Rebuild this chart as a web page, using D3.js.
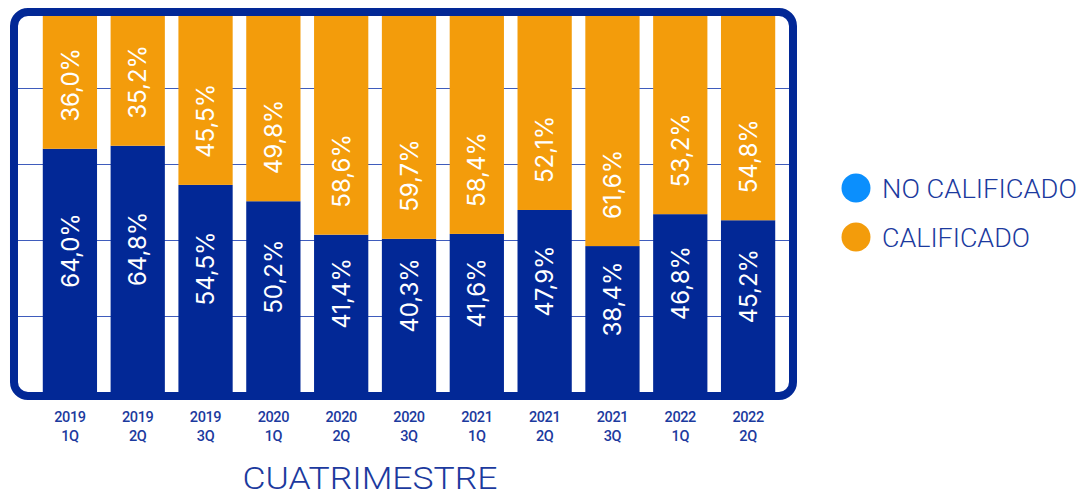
<!DOCTYPE html>
<html>
<head>
<meta charset="utf-8">
<script src="https://cdn.jsdelivr.net/npm/d3@7"></script>
<style>
  body { margin: 0; background: #fff; }
  svg { display: block; }
</style>
</head>
<body>
<svg id="chart" width="1089" height="496"></svg>
<script>
// chart data
const years = ["2019", "2019", "2019", "2020", "2020", "2020", "2021", "2021", "2021", "2022", "2022"];
const quarters = ["1Q", "2Q", "3Q", "1Q", "2Q", "3Q", "1Q", "2Q", "3Q", "1Q", "2Q"];
const noCalificado = [64.0, 64.8, 54.5, 50.2, 41.4, 40.3, 41.6, 47.9, 38.4, 46.8, 45.2];
const calificado = [36.0, 35.2, 45.5, 49.8, 58.6, 59.7, 58.4, 52.1, 61.6, 53.2, 54.8];
const gridValues = [20, 40, 60, 80];
const seriesNames = ["NO CALIFICADO", "CALIFICADO"];

const navy = "#022896";
const orange = "#f39c0b";
const legendBlue = "#0b8ffd";
const textBlue = "#1c3a9e";

const svg = d3.select("#chart");
const keys = years.map((y, i) => y + " " + quarters[i]);

// scales
const x = d3.scaleBand().domain(keys).range([36, 782]).paddingInner(0.2).paddingOuter(0.1);
const y = d3.scaleLinear().domain([0, 100]).range([392, 12]);

const fmt = v => d3.format(".1f")(v).replace(".", ",") + "%";

// clip the plot to the inside of the frame
svg.append("clipPath").attr("id", "inner")
    .append("rect")
    .attr("x", 14).attr("y", 12).attr("width", 779).attr("height", 384).attr("rx", 12);

const plot = svg.append("g").attr("clip-path", "url(#inner)");

// gridlines
plot.selectAll(".grid")
    .data(gridValues)
    .join("line")
    .attr("x1", 18).attr("x2", 789)
    .attr("y1", d => Math.round(y(d)) + 0.5)
    .attr("y2", d => Math.round(y(d)) + 0.5)
    .attr("stroke", "#3f5cbc")
    .attr("stroke-width", 1);

// stacked bars
const rows = keys.map((k, i) => ({ key: k, no: noCalificado[i], si: calificado[i] }));

plot.selectAll(".bar-no")
    .data(rows)
    .join("rect")
    .attr("x", d => x(d.key))
    .attr("width", x.bandwidth())
    .attr("y", d => y(d.no))
    .attr("height", d => y(0) - y(d.no))
    .attr("fill", navy);

plot.selectAll(".bar-si")
    .data(rows)
    .join("rect")
    .attr("x", d => x(d.key))
    .attr("width", x.bandwidth())
    .attr("y", d => y(d.no + d.si))
    .attr("height", d => y(d.no) - y(d.no + d.si))
    .attr("fill", orange);

// value labels (rotated)
const labelStyle = sel => sel
    .attr("dy", "0.36em")
    .attr("fill", "#fff")
    .attr("font-family", "Inter, 'Noto Sans', sans-serif")
    .attr("font-size", 24)
    .text(d => fmt(d.v));

// blue labels sit a bit above the middle of the blue part
plot.selectAll(".lab-no")
    .data(rows.map(d => ({ key: d.key, v: d.no, pos: (y(0) + y(d.no)) / 2 - 20 })))
    .join("text")
    .attr("text-anchor", "middle")
    .attr("transform", d => `translate(${x(d.key) + x.bandwidth() / 2},${d.pos}) rotate(-90)`)
    .call(labelStyle);

// orange labels start a fixed gap above the split
plot.selectAll(".lab-si")
    .data(rows.map(d => ({ key: d.key, v: d.si, pos: y(d.no) - 27 })))
    .join("text")
    .attr("text-anchor", "start")
    .attr("transform", d => `translate(${x(d.key) + x.bandwidth() / 2},${d.pos}) rotate(-90)`)
    .call(labelStyle);

// frame
svg.append("rect")
    .attr("x", 14).attr("y", 12).attr("width", 779).attr("height", 384)
    .attr("rx", 14)
    .attr("fill", "none")
    .attr("stroke", navy)
    .attr("stroke-width", 8);

// category labels
const ticks = svg.append("g")
    .attr("font-family", "Roboto, sans-serif")
    .attr("font-size", 14.5)
    .attr("font-weight", 500)
    .attr("fill", textBlue)
    .attr("text-anchor", "middle");

ticks.selectAll("text")
    .data(keys)
    .join("text")
    .attr("x", d => x(d) + x.bandwidth() / 2)
    .attr("y", 422)
    .each(function (d, i) {
        const t = d3.select(this);
        t.append("tspan").attr("x", x(d) + x.bandwidth() / 2).attr("letter-spacing", -0.4).text(years[i]);
        t.append("tspan").attr("x", x(d) + x.bandwidth() / 2).attr("dy", 18.5).attr("letter-spacing", -0.4).text(quarters[i]);
    });

// axis title
svg.append("text")
    .attr("x", 370).attr("y", 489)
    .attr("text-anchor", "middle")
    .attr("font-family", "Roboto, sans-serif")
    .attr("font-weight", 300)
    .attr("font-size", 31)
    .attr("fill", textBlue)
    .attr("textLength", 255)
    .attr("lengthAdjust", "spacingAndGlyphs")
    .text("CUATRIMESTRE");

// legend
const legend = svg.append("g");
const legendColors = [legendBlue, orange];
const legendWidths = [195, 148];
const ly = d3.scalePoint().domain(seriesNames).range([188, 237]);

legend.selectAll("circle")
    .data(seriesNames)
    .join("circle")
    .attr("cx", 856)
    .attr("cy", d => ly(d))
    .attr("r", 14.5)
    .attr("fill", (d, i) => legendColors[i]);

legend.selectAll("text")
    .data(seriesNames)
    .join("text")
    .attr("x", 882)
    .attr("y", d => ly(d) + 10)
    .attr("font-family", "Roboto, sans-serif")
    .attr("font-weight", 300)
    .attr("font-size", 25)
    .attr("fill", textBlue)
    .attr("textLength", (d, i) => legendWidths[i])
    .attr("lengthAdjust", "spacingAndGlyphs")
    .text(d => d);
</script>
</body>
</html>
